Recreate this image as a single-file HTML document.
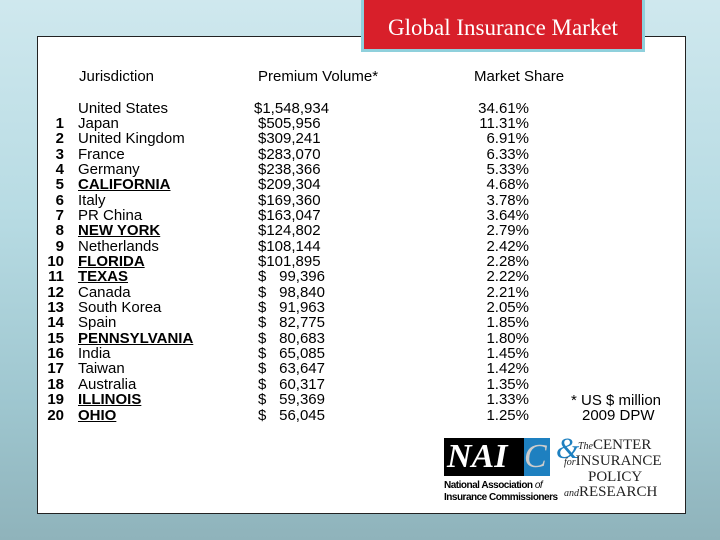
<!DOCTYPE html>
<html><head><meta charset="utf-8"><style>
body{margin:0;width:720px;height:540px;overflow:hidden;font-family:"Liberation Sans",sans-serif;}
#bg{position:absolute;left:0;top:0;width:720px;height:540px;background:linear-gradient(180deg,#cfe8ee 0%,#b7dbe3 40%,#9ec6cf 75%,#8fb3bb 100%);}
#card{position:absolute;left:37px;top:36px;width:647px;height:476px;background:#fff;border:1px solid #222;}
#title{position:absolute;left:361px;top:-4px;width:278px;height:50px;background:#d81f2a;border:3px solid #8fd0dc;color:#fff;font-family:"Liberation Serif",serif;font-size:23px;line-height:58px;text-align:center;}
.t{position:absolute;font-size:15px;line-height:15px;color:#000;white-space:nowrap;}
.h{font-size:15px;}
.n{font-weight:bold;text-align:right;width:30px;}
.u{font-weight:bold;text-decoration:underline;}
.r{text-align:right;}
</style></head><body>
<div id="bg"></div>
<div id="card"></div>
<div id="title">Global Insurance Market</div>
<div class="t h" style="left:79px;top:69px">Jurisdiction</div>
<div class="t h" style="left:258px;top:69px">Premium Volume*</div>
<div class="t h" style="left:474px;top:69px">Market Share</div>
<div id="rows"></div>
<div class="t" style="left:571px;top:393px">* US $ million</div>
<div class="t" style="left:582px;top:408px">2009 DPW</div>
<div style="position:absolute;left:444px;top:438px;width:110px;height:65px">
 <div style="position:absolute;left:0;top:0;width:80px;height:38px;background:#000;color:#fff;font-family:'Liberation Serif',serif;font-style:italic;font-weight:bold;font-size:34px;line-height:38px;padding-left:3px;box-sizing:border-box">NAI</div>
 <div style="position:absolute;left:80px;top:0;width:26px;height:38px;background:#1e80c0;color:#ccc;font-family:'Liberation Serif',serif;font-style:italic;font-size:34px;line-height:38px">C</div>
 <div style="position:absolute;left:0;top:42px;font-size:10px;font-weight:bold;line-height:12px;letter-spacing:-0.5px;white-space:nowrap">National Association <i style="font-weight:normal">of</i><br>Insurance Commissioners</div>
</div>
<div style="position:absolute;left:556px;top:436px;width:115px;height:68px;font-family:'Liberation Serif',serif;color:#222;white-space:nowrap">
 <div style="position:absolute;left:0;top:-4px;font-size:30px;color:#1e80c0;font-style:italic">&amp;</div>
 <div style="position:absolute;left:22px;top:2px;font-size:15px;line-height:15px"><i style="font-size:10px">The</i>CENTER</div>
 <div style="position:absolute;left:8px;top:18px;font-size:15px;line-height:15px"><i style="font-size:10px">for</i>INSURANCE</div>
 <div style="position:absolute;left:32px;top:34px;font-size:15px;line-height:15px">POLICY</div>
 <div style="position:absolute;left:8px;top:49px;font-size:15px;line-height:15px"><i style="font-size:10px">and</i>RESEARCH</div>
</div>
<script>
const ranks=["","1","2","3","4","5","6","7","8","9","10","11","12","13","14","15","16","17","18","19","20"];
const names=["United States","Japan","United Kingdom","France","Germany","CALIFORNIA","Italy","PR China","NEW YORK","Netherlands","FLORIDA","TEXAS","Canada","South Korea","Spain","PENNSYLVANIA","India","Taiwan","Australia","ILLINOIS","OHIO"];
const states=["CALIFORNIA","NEW YORK","FLORIDA","TEXAS","PENNSYLVANIA","ILLINOIS","OHIO"];
const premiums=[1548934,505956,309241,283070,238366,209304,169360,163047,124802,108144,101895,99396,98840,91963,82775,80683,65085,63647,60317,59369,56045];
const shares=[34.61,11.31,6.91,6.33,5.33,4.68,3.78,3.64,2.79,2.42,2.28,2.22,2.21,2.05,1.85,1.80,1.45,1.42,1.35,1.33,1.25];
const rows=document.getElementById('rows');
function add(txt,cls,left,top,name,w){
 const d=document.createElement('div');
 d.className='t '+cls;d.textContent=txt;d.style.left=left+'px';d.style.top=top+'px';
 if(w)d.style.width=w+'px';
 
 
 rows.appendChild(d);
}
names.forEach((nm,i)=>{
 const y=100.5+i*15.35;
 if(ranks[i])add(ranks[i],'n',34,y,'rank-'+ranks[i]);
 add(nm,states.includes(nm)?'u':'',78,y,'jurisdiction-'+i);
 const p=premiums[i];let s=p.toLocaleString('en-US');
 if(p>=1000000)add('$'+s,'',254,y,'premium-'+i);
 else if(p>=100000)add('$'+s,'',258,y,'premium-'+i);
 else{add('$','',258,y,'premium-dollar-'+i);add(s,'r',266,y,'premium-'+i,59);}
 add(shares[i].toFixed(2)+'%','r',460,y,'share-'+i,69);
});
</script>
</body></html>
